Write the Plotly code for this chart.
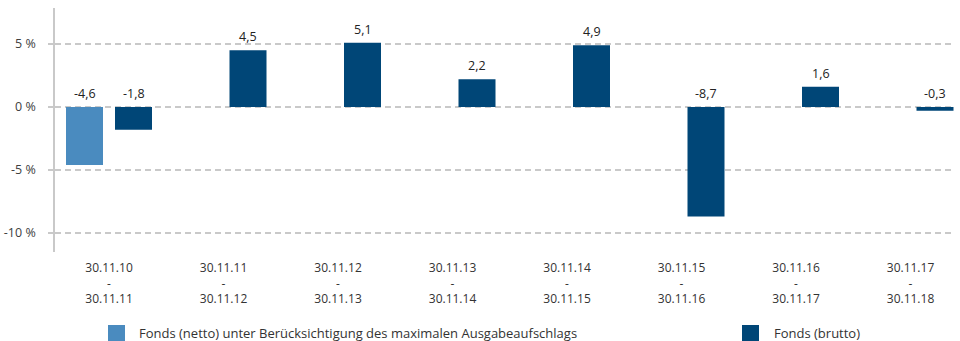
import plotly.graph_objects as go

# Periods (start / end of each one-year window)
period_start = ["30.11.10", "30.11.11", "30.11.12", "30.11.13",
                "30.11.14", "30.11.15", "30.11.16", "30.11.17"]
period_end = ["30.11.11", "30.11.12", "30.11.13", "30.11.14",
              "30.11.15", "30.11.16", "30.11.17", "30.11.18"]
categories = [f"{a}<br>-<br>{b}" for a, b in zip(period_start, period_end)]

# Annual performance in %
netto = [-4.6, None, None, None, None, None, None, None]
brutto = [-1.8, 4.5, 5.1, 2.2, 4.9, -8.7, 1.6, -0.3]

name_netto = "Fonds (netto) unter Berücksichtigung des maximalen Ausgabeaufschlags"
name_brutto = "Fonds (brutto)"

color_netto = "#4a8bbf"
color_brutto = "#004677"
grid_color = "#c9c9c9"
font_family = "Open Sans, sans-serif"

# plot-area geometry (pixels)
W, H = 960, 341
ML, MR, MT, MB = 55, 5, 8, 89
plot_w = W - ML - MR
plot_h = H - MT - MB

fig = go.Figure()
fig.add_trace(go.Bar(x=categories, y=netto, name=name_netto,
                     marker=dict(color=color_netto, line=dict(width=0)),
                     showlegend=False))
fig.add_trace(go.Bar(x=categories, y=brutto, name=name_brutto,
                     marker=dict(color=color_brutto, line=dict(width=0)),
                     showlegend=False))

# value labels, always placed above the zero line / bar top
def fmt(v):
    return f"{v:.1f}".replace(".", ",")

slot_px = 49  # horizontal offset of each bar in a group = slot/2
for series, shift in ((netto, -slot_px / 2), (brutto, slot_px / 2)):
    for cat, v in zip(categories, series):
        if v is None:
            continue
        fig.add_annotation(x=cat, y=max(v, 0), text=fmt(v), showarrow=False,
                           xref="x", yref="y", xshift=shift, yshift=3,
                           yanchor="bottom",
                           font=dict(size=12.5, color="#222222", family=font_family))

# legend drawn at the bottom
def px_x(p):
    return (p - ML) / plot_w

def px_y(p):
    return (H - MB - p) / plot_h

legend_items = [(name_netto, color_netto, 108, 137),
                (name_brutto, color_brutto, 742, 772)]
for label, col, sq_x, tx_x in legend_items:
    fig.add_shape(type="rect", xref="paper", yref="paper",
                  x0=px_x(sq_x), x1=px_x(sq_x + 17),
                  y0=px_y(325), y1=px_y(342),
                  fillcolor=col, line=dict(width=0), layer="above")
    fig.add_annotation(xref="paper", yref="paper", x=px_x(tx_x), y=px_y(333),
                       text=label, showarrow=False, xanchor="left", yanchor="middle",
                       font=dict(size=13, color="#333333", family=font_family))

# y range from pixel geometry: 0 % at 107 px, 12.6 px per 1 %
px_per_pct = 12.6
zero_px = 107
y_top = (zero_px - MT) / px_per_pct
y_bot = -((H - MB) - zero_px) / px_per_pct

# x range: first category centre at 109 px, spacing 114.5 px
cat_px = 114.5
first_px = 109
x_lo = (ML - first_px) / cat_px
x_hi = (W - MR - first_px) / cat_px

fig.update_layout(
    width=W, height=H,
    margin=dict(l=ML, r=MR, t=MT, b=MB),
    plot_bgcolor="white", paper_bgcolor="white",
    barmode="group", bargap=1 - 2 * slot_px / cat_px, bargroupgap=12 / slot_px,
    font=dict(family=font_family, size=12, color="#333333"),
    showlegend=False,
)
fig.update_xaxes(type="category", range=[x_lo, x_hi], showgrid=False,
                 showline=False, zeroline=False, ticks="",
                 tickfont=dict(size=12, color="#333333"),
                 ticklabelstandoff=7)
fig.update_yaxes(range=[y_bot, y_top],
                 tickvals=[5, 0, -5, -10],
                 ticktext=["5 %", "0 %", "-5 %", "-10 %"],
                 showgrid=True, gridcolor=grid_color, gridwidth=1.5,
                 griddash="6px,4px", zeroline=False,
                 showline=True, linecolor=grid_color, linewidth=1.5,
                 ticks="outside", ticklen=5, tickcolor=grid_color, tickwidth=1.5,
                 ticklabelstandoff=10,
                 tickfont=dict(size=12.5, color="#404040"))

fig.write_html("out.html")
